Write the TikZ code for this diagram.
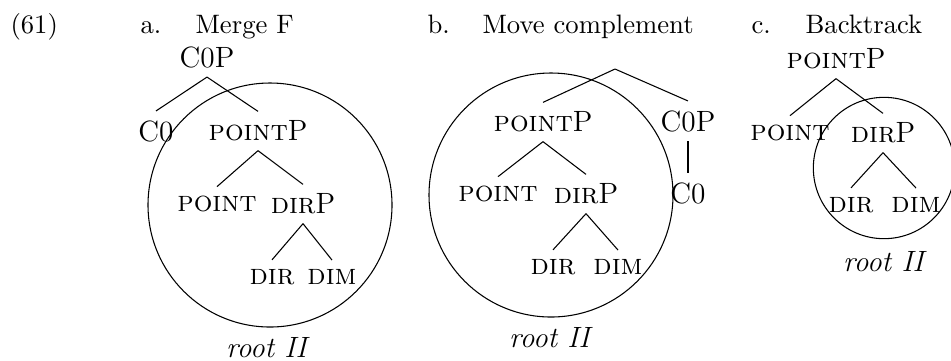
\documentclass[tikz,border=0pt]{standalone}

\begin{document}
\begin{tikzpicture}[x=0.375pt, y=-0.375pt,
        lbl/.style={anchor=base west, inner sep=0pt},
        cat/.style={font=\fontsize{11}{13}\selectfont},
        ring/.style={draw, line width=0.4pt},
        branch/.style={draw, line width=0.4pt}]

    \useasboundingbox (0,0) rectangle (951,360);

    % example number and headings
    \node[lbl] (exNum)   at (10,33)  {(61)};
    \node[lbl] (aMark)   at (140,33) {a.};
    \node[lbl] (aTitle)  at (195,33) {Merge F};
    \node[lbl] (bMark)   at (427,33) {b.};
    \node[lbl] (bTitle)  at (482,33) {Move complement};
    \node[lbl] (cMark)   at (751,33) {c.};
    \node[lbl] (cTitle)  at (805,33) {Backtrack};

    % a. Merge F
    \node[cat] (aCOP)    at (207,57)  {C0P};
    \node[cat] (aCO)     at (156,131) {C0};
    \node[cat] (aPointP) at (258,131) {\textsc{point}P};
    \node[cat] (aPoint)  at (217,204) {\textsc{point}};
    \node[cat] (aDirP)   at (303,204) {\textsc{dir}P};
    \node[cat] (aDir)    at (272,277) {\textsc{dir}};
    \node[cat] (aDim)    at (332,277) {\textsc{dim}};
    \node[cat] (aRoot)   at (268,348) {\textit{root II}};
    \coordinate (aRing) at (270,205);
    \draw[branch] (aCOP.south) -- (aCO.north);
    \draw[branch] (aCOP.south) -- (aPointP.north);
    \draw[branch] (aPointP.south) -- (aPoint.north);
    \draw[branch] (aPointP.south) -- (aDirP.north);
    \draw[branch] (aDirP.south) -- (aDir.north);
    \draw[branch] (aDirP.south) -- (aDim.north);
    \draw[ring] (aRing) circle [radius=45.75pt];

    % b. Move complement
    \coordinate (bTop) at (615,69);
    \node[cat] (bPointP) at (543,122) {\textsc{point}P};
    \node[cat] (bCOP)    at (688,121) {C0P};
    \node[cat] (bCO)     at (688,193) {C0};
    \node[cat] (bPoint)  at (498,194) {\textsc{point}};
    \node[cat] (bDirP)   at (586,194) {\textsc{dir}P};
    \node[cat] (bDir)    at (553,267) {\textsc{dir}};
    \node[cat] (bDim)    at (618,267) {\textsc{dim}};
    \node[cat] (bRoot)   at (551,338) {\textit{root II}};
    \coordinate (bRing) at (551,195);
    \draw[branch] (bTop) -- (bPointP.north);
    \draw[branch] (bTop) -- (bCOP.north);
    \draw[branch] (bCOP.south) -- (bCO.north);
    \draw[branch] (bPointP.south) -- (bPoint.north);
    \draw[branch] (bPointP.south) -- (bDirP.north);
    \draw[branch] (bDirP.south) -- (bDir.north);
    \draw[branch] (bDirP.south) -- (bDim.north);
    \draw[ring] (bRing) circle [radius=45.75pt];

    % c. Backtrack
    \node[cat] (cPointP) at (836,59)  {\textsc{point}P};
    \node[cat] (cPoint)  at (790,133) {\textsc{point}};
    \node[cat] (cDirP)   at (883,133) {\textsc{dir}P};
    \node[cat] (cDir)    at (851,205) {\textsc{dir}};
    \node[cat] (cDim)    at (916,205) {\textsc{dim}};
    \node[cat] (cRoot)   at (885,262) {\textit{root II}};
    \coordinate (cRing) at (884,168);
    \draw[branch] (cPointP.south) -- (cPoint.north);
    \draw[branch] (cPointP.south) -- (cDirP.north);
    \draw[branch] (cDirP.south) -- (cDir.north);
    \draw[branch] (cDirP.south) -- (cDim.north);
    \draw[ring] (cRing) circle [radius=26.5pt];
\end{tikzpicture}
\end{document}
